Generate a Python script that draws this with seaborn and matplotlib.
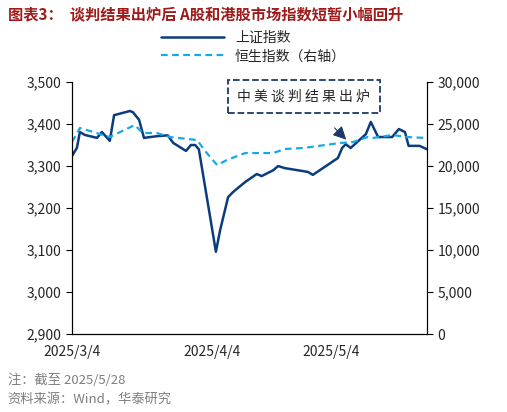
import matplotlib
matplotlib.use("Agg")
import matplotlib.pyplot as plt
import seaborn as sns
import pandas as pd

# 交易日序号 (0 = 2025/3/4)
sh_day = [0, 0.8, 1.3, 2.1, 4.1, 4.9, 6.2, 6.9, 9.5, 10, 11, 11.8, 13.9, 15.7, 16.6, 18.7, 19.5, 20.2, 20.8,
          23.6, 24.3, 25.6, 26.4, 28.4, 30.3, 31.1, 33, 33.8, 34.9, 38.7, 39.5, 43.6, 44.3, 44.9, 45.7,
          48.2, 49, 50.2, 52.5, 53.6, 54.6, 55.2, 57, 58.2]
sh_val = [3324, 3343, 3381, 3374, 3367, 3381, 3360, 3421, 3431, 3428, 3410, 3367, 3371, 3373, 3355, 3336, 3350, 3350, 3340,
          3096, 3148, 3226, 3238, 3262, 3281, 3276, 3290, 3300, 3295, 3286, 3279, 3319, 3343, 3352, 3343,
          3376, 3405, 3369, 3369, 3388, 3381, 3348, 3348, 3340]
hs_day = [0, 1.3, 6.2, 7.9, 10.3, 11.6, 13.9, 16.1, 20.5, 22.1, 23.8, 25.4, 28.4, 33, 34.9, 37.9, 43.9, 46.1,
          48.5, 49.3, 52.6, 54.9, 58.2]
hs_val = [22857, 24524, 23452, 24048, 24881, 23929, 23929, 23452, 23095, 21548, 20119, 20714, 21548, 21548, 22024,
          22143, 22738, 22857, 23452, 23333, 23690, 23452, 23333]
tick_pos = [0, 23, 42.5]
tick_lab = ["2025/3/4", "2025/4/4", "2025/5/4"]

sns.set_style("white")
plt.rcParams['font.family'] = ['Noto Sans CJK SC', 'DejaVu Sans']

fig = plt.figure(figsize=(5.07, 4.12), dpi=100)
ax = fig.add_axes([0.142, 0.189, 0.700, 0.612])
ax2 = ax.twinx()

sh = pd.DataFrame({"day": sh_day, "val": sh_val})
hs = pd.DataFrame({"day": hs_day, "val": hs_val})
sns.lineplot(data=sh, x="day", y="val", ax=ax, color="#0B3C7D", lw=1.8, label="上证指数", legend=False)
sns.lineplot(data=hs, x="day", y="val", ax=ax2, color="#16A9E8", lw=1.6, ls=(0, (3, 2)), label="恒生指数（右轴）", legend=False)

ax.set_xlim(0, 58.2)
ax.set_ylim(2900, 3500)
ax2.set_ylim(0, 30000)
ax.set_yticks(range(2900, 3501, 100))
ax.set_yticklabels([f"{v:,}" for v in range(2900, 3501, 100)])
ax2.set_yticks(range(0, 30001, 5000))
ax2.set_yticklabels([f"{v:,}" for v in range(0, 30001, 5000)])
ax.set_xticks(tick_pos)
ax.set_xticklabels(tick_lab)
for a in (ax, ax2):
    a.set_xlabel("")
    a.set_ylabel("")
    a.spines["top"].set_visible(False)
    for s in ("left", "right", "bottom"):
        a.spines[s].set_color("black")
        a.spines[s].set_linewidth(0.8)
    a.tick_params(labelsize=10, length=4, direction="out", color="black")
ax.tick_params(axis="y", left=True)
ax2.tick_params(axis="y", right=True)
ax.tick_params(axis="x", bottom=False)

h1, l1 = ax.get_legend_handles_labels()
h2, l2 = ax2.get_legend_handles_labels()
fig.legend(h1 + h2, l1 + l2, loc="upper center", bbox_to_anchor=(0.50, 0.955), frameon=False,
           fontsize=10, handlelength=4.5, labelspacing=0.3)

ax.annotate("中 美 谈 判 结 果 出 炉", xy=(45.3, 3358), xytext=(38, 3465), ha="center", va="center", fontsize=10,
            bbox=dict(boxstyle="square,pad=0.7", fc="white", ec="#1F3864", ls="--", lw=1.3),
            arrowprops=dict(arrowstyle="-|>", color="#1F3864", lw=0.8, mutation_scale=20, shrinkA=14))

fig.text(0.015, 0.965, "图表3：  谈判结果出炉后 A股和港股市场指数短暂小幅回升", fontsize=11, fontweight="bold",
         color="#9E1B1B", va="center")
fig.text(0.015, 0.078, "注：截至 2025/5/28", fontsize=9.5, color="#7F7F7F", va="center")
fig.text(0.015, 0.028, "资料来源：Wind，华泰研究", fontsize=9.5, color="#7F7F7F", va="center")

fig.savefig("out.png", dpi=100)
